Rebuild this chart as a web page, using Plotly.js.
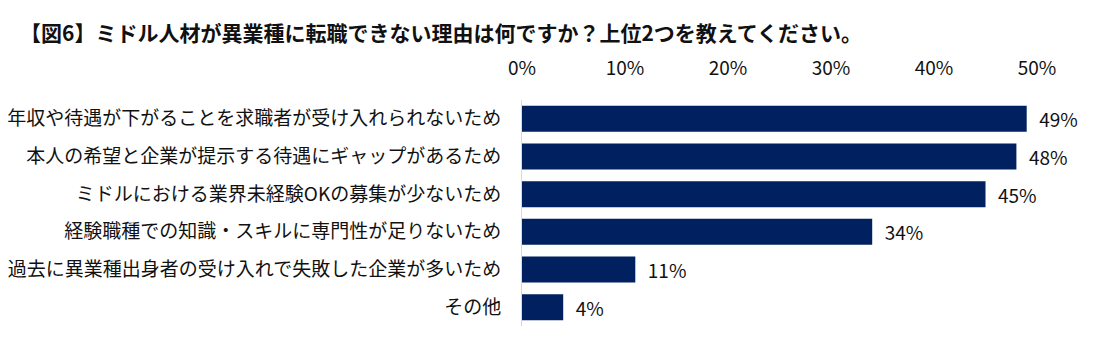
<!DOCTYPE html>
<html>
<head>
<meta charset="utf-8">
<script src="https://cdn.plot.ly/plotly-3.0.1.min.js"></script>
<style>html,body{margin:0;padding:0;background:#fff;}#chart{width:1098px;height:361px;}</style>
</head>
<body>
<div id="chart"></div>
<script>
const chartTitle = "【図6】ミドル人材が異業種に転職できない理由は何ですか？上位2つを教えてください。";
const categories = [
  "年収や待遇が下がることを求職者が受け入れられないため",
  "本人の希望と企業が提示する待遇にギャップがあるため",
  "ミドルにおける業界未経験OKの募集が少ないため",
  "経験職種での知識・スキルに専門性が足りないため",
  "過去に異業種出身者の受け入れで失敗した企業が多いため",
  "その他"
];
const values = [49, 48, 45, 34, 11, 4];
const tickVals = [0, 10, 20, 30, 40, 50];
const tickText = ["0%", "10%", "20%", "30%", "40%", "50%"];

const font = '"Noto Sans CJK JP", "Noto Sans", sans-serif';

const trace = {
  type: 'bar',
  orientation: 'h',
  y: categories,
  x: values,
  text: values.map(v => '\u2002' + v + '%'),
  textposition: 'outside',
  constraintext: 'none',
  cliponaxis: false,
  textfont: {family: font, size: 19, color: '#111'},
  marker: {color: '#002060'},
  hoverinfo: 'skip'
};

const layout = {
  width: 1098,
  height: 361,
  margin: {l: 522, r: 61, t: 100, b: 35},
  paper_bgcolor: '#fff',
  plot_bgcolor: '#fff',
  bargap: 0.31,
  showlegend: false,
  font: {family: font, color: '#111'},
  title: {
    text: '<b>' + chartTitle + '</b>',
    font: {family: font, size: 21, color: '#111'},
    x: 20 / 1098,
    xanchor: 'left',
    xref: 'container',
    y: 1 - 34 / 361,
    yanchor: 'middle',
    yref: 'container'
  },
  xaxis: {
    side: 'top',
    range: [0, 50],
    tickvals: tickVals,
    ticktext: tickText,
    tickfont: {family: font, size: 19, color: '#111'},
    showgrid: false,
    zeroline: false,
    showline: false,
    ticks: 'outside',
    ticklen: 16,
    tickcolor: 'rgba(0,0,0,0)',
    fixedrange: true
  },
  yaxis: {
    autorange: 'reversed',
    tickfont: {family: font, size: 19, color: '#111'},
    showline: true,
    linecolor: '#d9d9d9',
    linewidth: 1,
    ticks: 'outside',
    ticklen: 16,
    tickcolor: 'rgba(0,0,0,0)',
    showgrid: false,
    zeroline: false,
    fixedrange: true
  }
};

Plotly.newPlot('chart', [trace], layout, {displayModeBar: false, staticPlot: true});
</script>
</body>
</html>
